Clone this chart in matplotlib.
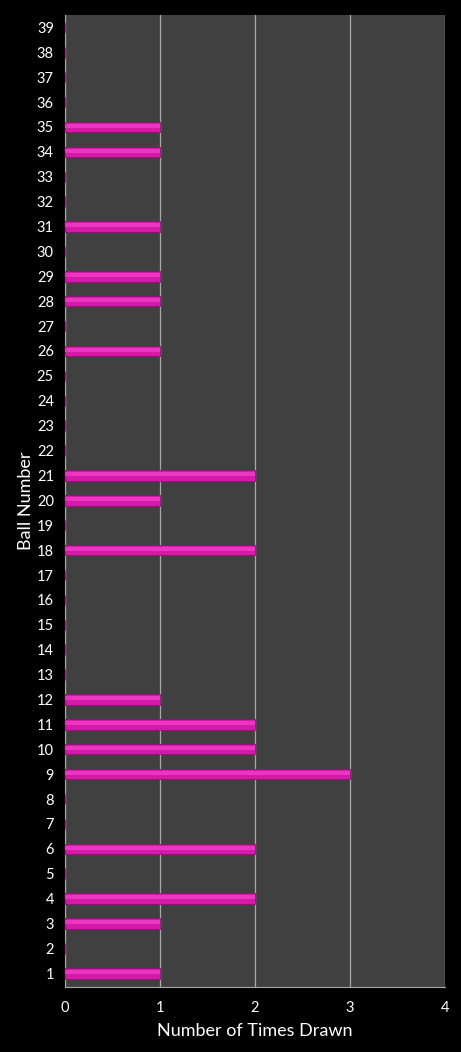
import matplotlib
matplotlib.use("Agg")
import matplotlib.pyplot as plt
import numpy as np

balls = list(range(1, 40))
drawn_counts = {1: 1, 3: 1, 4: 2, 6: 2, 9: 3, 10: 2, 11: 2, 12: 1, 18: 2, 20: 1,
                21: 2, 26: 1, 28: 1, 29: 1, 31: 1, 34: 1, 35: 1}
times_drawn = [drawn_counts.get(b, 0) for b in balls]
x_ticks = [0, 1, 2, 3, 4]

plt.rcParams['font.family'] = ['Lato', 'DejaVu Sans']

fig = plt.figure(figsize=(4.61, 10.52), dpi=100, facecolor='black')
ax = fig.add_axes([0.141, 0.0618, 0.824, 0.924])
ax.set_facecolor('#404040')

y = np.array(balls)
vals = np.array(times_drawn)
ax.barh(y, vals, height=0.42, color='#D41AA6', edgecolor='#901275', linewidth=0.6, zorder=3)
ax.barh(y + 0.05, vals, height=0.16, color='#EA36C2', linewidth=0, zorder=4)

ax.set_xlim(0, 4)
ax.set_ylim(0.45, 39.5)
ax.set_xticks(x_ticks)
ax.set_yticks(balls)
ax.set_yticklabels([str(b) for b in balls])
ax.grid(axis='x', color='#a8a8a8', linewidth=0.9, zorder=1)
ax.set_axisbelow(True)
for s in ['top', 'right']:
    ax.spines[s].set_visible(False)
ax.spines['left'].set_color('#a8a8a8')
ax.spines['bottom'].set_color('#a8a8a8')
ax.tick_params(colors='white', labelsize=10.5, length=0, pad=8)
ax.tick_params(axis='x', pad=10)
ax.set_xlabel('Number of Times Drawn', color='white', fontsize=13, labelpad=6)
ax.set_ylabel('Ball Number', color='white', fontsize=13, labelpad=2)

fig.savefig('out.png', dpi=100, facecolor='black')
